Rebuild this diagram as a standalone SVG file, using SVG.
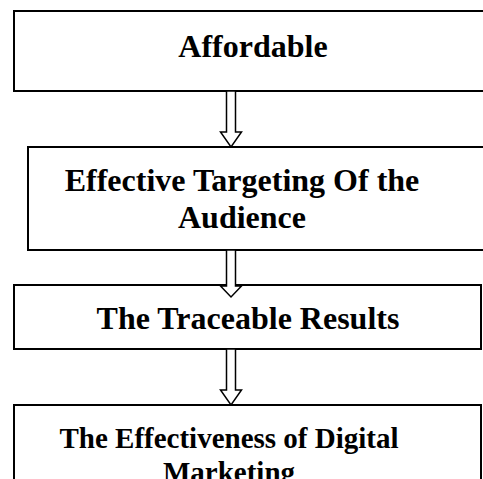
<svg xmlns="http://www.w3.org/2000/svg" width="483" height="479" viewBox="0 0 483 479">
<style>
.box{fill:#fff;stroke:#000;stroke-width:2}
.arr{fill:#fff;stroke:#000;stroke-width:1.5;stroke-linejoin:miter}
.t{font-family:"Liberation Serif","Times New Roman",serif;font-weight:bold;fill:#000;text-anchor:middle}
</style>
<g id="node1"><rect class="box" x="14" y="11" width="480" height="80"/><text class="t" x="253" y="57" font-size="32">Affordable</text></g>
<g id="node2"><rect class="box" x="28" y="147" width="466" height="103"/><text class="t" x="242" y="191" font-size="32">Effective Targeting Of the</text><text class="t" x="242" y="228" font-size="32">Audience</text></g>
<g id="node3"><rect class="box" x="14" y="285" width="467" height="64"/><text class="t" x="248" y="329" font-size="32">The Traceable Results</text></g>
<g id="node4"><rect class="box" x="14" y="405" width="467" height="100"/><text class="t" x="229" y="448" font-size="29">The Effectiveness of Digital</text><text class="t" x="229" y="482" font-size="29">Marketing</text></g>
<g id="connectors">
<polygon class="arr" points="226.5,91 235.5,91 235.5,132 241.5,132 231,147 220.5,132 226.5,132"/>
<polygon class="arr" points="226.5,250 235.5,250 235.5,286 241.5,286 231,297 220.5,286 226.5,286"/>
<polygon class="arr" points="226.5,349 235.5,349 235.5,390 241.5,390 231,405 220.5,390 226.5,390"/>
</g>
</svg>
